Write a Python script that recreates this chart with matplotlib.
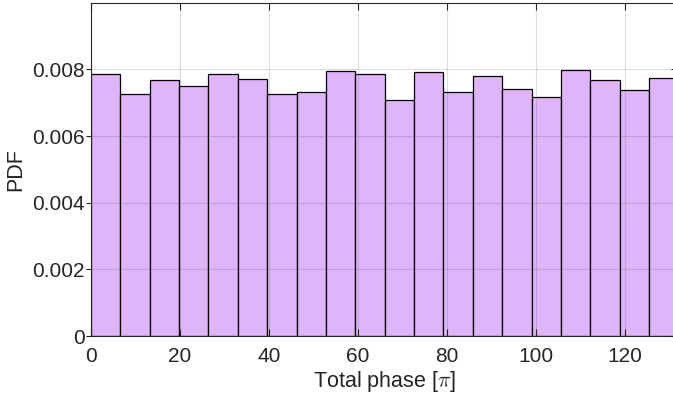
import numpy as np
import matplotlib.pyplot as plt

# histogram of the total phase (normalised as a PDF)
bin_width = 6.6
n_bins = 20
pdf = [0.00785, 0.00725, 0.00767, 0.00749, 0.00785, 0.00770, 0.00727, 0.00731,
       0.00795, 0.00785, 0.00707, 0.00791, 0.00731, 0.00781, 0.00740, 0.00716,
       0.00797, 0.00767, 0.00737, 0.00773]
x_ticks = [0, 20, 40, 60, 80, 100, 120]
y_ticks = [0, 0.002, 0.004, 0.006, 0.008]
y_tick_labels = ['0', '0.002', '0.004', '0.006', '0.008']

plt.rcParams['font.family'] = ['Liberation Sans', 'DejaVu Sans']
plt.rcParams['mathtext.fontset'] = 'cm'

edges = np.arange(n_bins + 1) * bin_width

fig = plt.figure(figsize=(6.73, 4.03), dpi=100)
ax = fig.add_axes([91 / 673, 67 / 403, 587.4 / 673, 333.3 / 403])

ax.bar(edges[:-1], pdf, width=bin_width, align='edge',
       color='#e0b4f8', edgecolor='black', linewidth=0.9, zorder=1)

ax.set_xlim(edges[0], edges[-1])
ax.set_ylim(0, 0.01)
ax.set_xticks(x_ticks)
ax.set_yticks(y_ticks)
ax.set_yticklabels(y_tick_labels)

ax.grid(True, color='#262626', alpha=0.15, linewidth=0.8)
ax.set_axisbelow(False)

for s in ax.spines.values():
    s.set_color('#262626')
    s.set_linewidth(0.8)
    s.set_zorder(3)

ax.tick_params(axis='x', direction='in', top=True, length=5, width=0.8,
               pad=8, labelsize=15, colors='#262626')
ax.tick_params(axis='y', direction='out', length=3.5, width=0.8,
               pad=1, labelsize=15, colors='#262626')

sec = ax.secondary_yaxis('right')
sec.set_yticks(y_ticks)
sec.tick_params(direction='in', length=5, width=0.8, labelright=False, colors='#262626')
sec.spines['right'].set_color('#262626')

ax.set_xlabel(r'Total phase [$\pi$]', fontsize=15.5, color='#262626', labelpad=2)
ax.set_ylabel('PDF', fontsize=15.5, color='#262626', labelpad=4)

fig.savefig('out.png', dpi=100)
